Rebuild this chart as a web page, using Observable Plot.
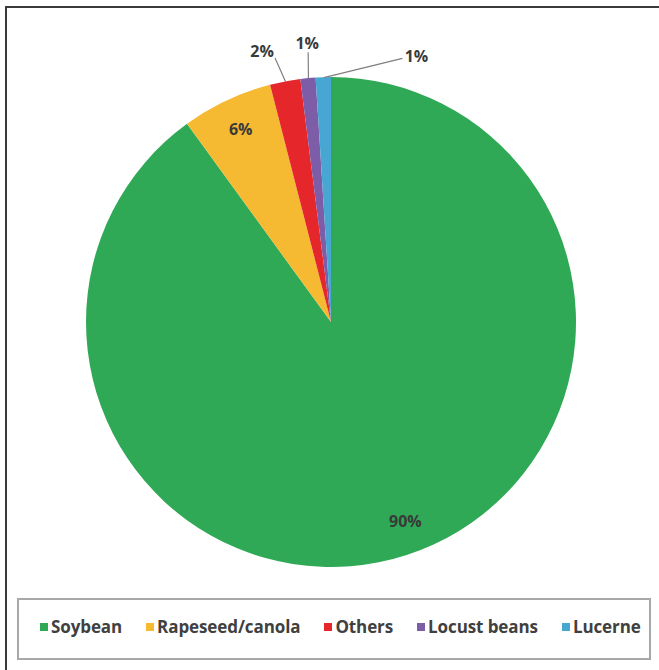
<!DOCTYPE html>
<html>
<head>
<meta charset="utf-8">
<script src="https://cdn.jsdelivr.net/npm/d3@7"></script>
<script src="https://cdn.jsdelivr.net/npm/@observablehq/plot@0.6"></script>
<style>
  html, body { margin: 0; padding: 0; background: #fff; }
  #wrap { position: relative; width: 659px; height: 670px; overflow: hidden; background: #fff; }
  #frame { position: absolute; left: 5px; top: 6px; width: 720px; height: 720px; border: 2px solid #3a3a3a; box-sizing: border-box; }
  #chart { position: absolute; left: 0; top: 0; }
  #legend {
    position: absolute; left: 17px; top: 598px; width: 634px; height: 62px;
    border: 2px solid #a8a8a8; box-sizing: border-box;
    display: flex; align-items: center; padding-left: 21px; padding-bottom: 5px; gap: 24px;
    font: bold 17px "Open Sans", sans-serif; color: #404040; letter-spacing: -0.1px;
  }
  #legend .item { display: flex; align-items: center; white-space: nowrap; }
  #legend .sw { width: 8px; height: 8px; margin-right: 3px; }
</style>
</head>
<body>
<div id="wrap">
  <div id="frame"></div>
  <div id="chart"></div>
  <div id="legend"></div>
</div>
<script>
// ---- data ----
const categories = ["Soybean", "Rapeseed/canola", "Others", "Locust beans", "Lucerne"];
const shares = [90, 6, 2, 1, 1];
const labels = ["90%", "6%", "2%", "1%", "1%"];

// ---- style / layout ----
const colors = ["#2fa955", "#f5b932", "#e5262b", "#7d5ca8", "#48a6d2"];
const W = 659, H = 590, R = 245, CX = 331, CY = 322;
const insideRadius = 0.87;            // fraction of R for inside labels
const outsideRadius = 1.14;           // fraction of R for outside labels
const outsideAngle = { "Others": -14.4, "Locust beans": -5, "Lucerne": 17.7 }; // degrees from 12 o'clock
const leaderEnd = { "Others": [13, 6], "Locust beans": [1, 8], "Lucerne": [-14, 2] }; // px offset from label centre
const insideShift = { "Soybean": [8, -3] }; // px nudge of inside labels

const data = categories.map((name, i) => ({ name, share: shares[i], label: labels[i] }));
const arcs = d3.pie().sort(null).value(d => d.share)(data);

const rad = Math.PI / 180;
const labelData = arcs.map(a => {
  const mid = (a.startAngle + a.endAngle) / 2;
  const outside = a.data.name in outsideAngle;
  const ang = outside ? outsideAngle[a.data.name] * rad : mid;
  const d = outside ? outsideRadius : insideRadius;
  let lx = Math.sin(ang) * d, ly = Math.cos(ang) * d;
  if (insideShift[a.data.name]) {
    const [sx, sy] = insideShift[a.data.name];
    lx += sx / R; ly -= sy / R;
  }
  const row = { name: a.data.name, label: a.data.label, lx, ly, outside };
  if (outside) {
    const [ox, oy] = leaderEnd[a.data.name];
    row.x1 = Math.sin(mid); row.y1 = Math.cos(mid);
    row.x2 = lx + ox / R; row.y2 = ly - oy / R;
  }
  return row;
});

function pieMark(index, scales) {
  const cx = scales.x(0), cy = scales.y(0), r = scales.x(1) - scales.x(0);
  const color = scales.color || Plot.scale({ color: { type: "ordinal", domain: categories, range: colors } }).apply;
  const arc = d3.arc().innerRadius(0).outerRadius(r);
  const g = d3.create("svg:g").attr("transform", `translate(${cx},${cy})`);
  g.selectAll("path").data(arcs).join("path")
    .attr("d", arc)
    .attr("fill", d => color(d.data.name))
    .attr("stroke", "none");
  return g.node();
}

const plot = Plot.plot({
  width: W, height: H,
  marginTop: 0, marginRight: 0, marginBottom: 0, marginLeft: 0,
  x: { domain: [-CX / R, (W - CX) / R], axis: null },
  y: { domain: [-(H - CY) / R, CY / R], axis: null },
  color: { type: "ordinal", domain: categories, range: colors },
  style: { background: "transparent", overflow: "visible" },
  marks: [
    Plot.dot(labelData, { x: "lx", y: "ly", fill: "name", r: 0, fillOpacity: 0 }),
    pieMark,
    Plot.link(labelData.filter(d => d.outside), {
      x1: "x1", y1: "y1", x2: "x2", y2: "y2",
      stroke: "#7f7f7f", strokeWidth: 1.2
    }),
    Plot.text(labelData, {
      x: "lx", y: "ly", text: "label",
      fill: "#3a3a3a", fontSize: 16, fontWeight: "bold",
      fontFamily: "Open Sans", textAnchor: "middle", lineAnchor: "middle"
    })
  ]
});
document.getElementById("chart").appendChild(plot);

// ---- legend ----
const legend = d3.select("#legend");
const items = legend.selectAll(".item").data(categories).join("div").attr("class", "item");
items.append("div").attr("class", "sw").style("background", (d, i) => colors[i]);
items.append("span").text(d => d);
</script>
</body>
</html>
